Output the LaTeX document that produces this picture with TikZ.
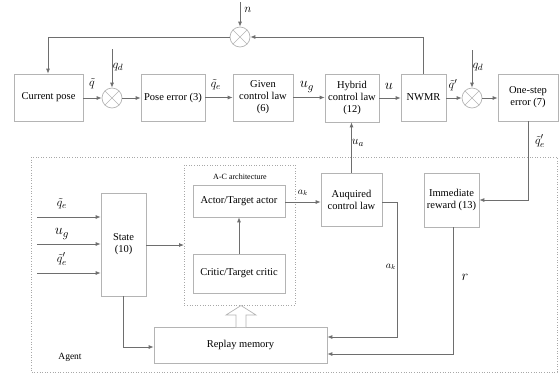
\documentclass[tikz,border=0pt]{standalone}
\usepackage{fontspec}
\setmainfont{Liberation Serif}
\usetikzlibrary{arrows.meta,calc}
\definecolor{boxc}{HTML}{B4B4B4}
\definecolor{linec}{HTML}{6E6E6E}
\definecolor{dotc}{HTML}{A8A8A8}
\tikzset{
  box/.style={draw=boxc, line width=0.7pt, align=center, inner sep=1pt, font=\fontsize{10.5}{12}\selectfont},
  sumnode/.style={draw=boxc, line width=0.7pt, circle, minimum size=20pt, inner sep=0pt,
    path picture={\draw[boxc,line width=0.6pt] (path picture bounding box.north west) -- (path picture bounding box.south east)
      (path picture bounding box.north east) -- (path picture bounding box.south west);}},
  arr/.style={draw=linec, line width=0.8pt, -{Latex[length=5pt,width=4pt]}},
  ln/.style={draw=linec, line width=0.8pt},
  lab/.style={inner sep=0pt, font=\fontsize{13}{15}\selectfont},
  blab/.style={inner sep=0pt, font=\fontsize{15}{17}\selectfont},
  slab/.style={inner sep=0pt, font=\fontsize{10}{12}\selectfont},
  dotbox/.style={draw=dotc, dotted, line width=0.6pt},
}
\begin{document}
\begin{tikzpicture}[x=1pt,y=-1pt]
\useasboundingbox (0,0) rectangle (559,376);
% top row
\node[box, minimum width=69pt, minimum height=47pt] (cur) at (48.5,97.5) {Current pose};
\node[sumnode] (c1) at (112,98) {};
\node[box, minimum width=64pt, minimum height=47pt] (perr) at (173,97.5) {Pose error (3)};
\node[box, minimum width=60pt, minimum height=47pt] (given) at (263,97.5) {Given\\control law\\(6)};
\node[box, minimum width=54pt, minimum height=48pt] (hyb) at (352,98) {Hybrid\\control law\\(12)};
\node[box, minimum width=45pt, minimum height=47pt] (nwmr) at (423.5,97.5) {NWMR};
\node[sumnode] (c2) at (472,98) {};
\node[box, minimum width=60pt, minimum height=47pt] (one) at (528,97.5) {One-step\\error (7)};
\node[sumnode] (c0) at (240,37) {};
\coordinate (nsrc) at (240,2);
\coordinate (qd1) at (112,49);
\coordinate (qd2) at (472,50);
\coordinate (fbl) at (48,37);
% agent
\draw[dotbox] (31,157) rectangle (557,372);
\draw[dotbox] (184,165) rectangle (295,305);
\node[slab, font=\fontsize{8}{10}\selectfont] (aclab) at (240,177) {A-C architecture};
\node[box, minimum width=92pt, minimum height=32pt] (actor) at (239,201) {Actor/Target actor};
\node[box, minimum width=92pt, minimum height=39pt] (critic) at (239,273.5) {Critic/Target critic};
\node[box, minimum width=45pt, minimum height=103pt] (state) at (123.5,244.5) {State\\(10)};
\node[box, minimum width=61pt, minimum height=53pt] (acq) at (351.5,199.5) {Auquired\\control law};
\node[box, minimum width=55pt, minimum height=54pt] (imm) at (451.5,200) {Immediate\\reward (13)};
\node[box, minimum width=173pt, minimum height=36pt] (replay) at (240.5,345) {Replay memory};
\node[slab, font=\fontsize{9.5}{11}\selectfont] (agent) at (70,357) {Agent};
\coordinate (acw) at (184,245);
\coordinate (in1) at (37,217);
\coordinate (in2) at (37,244);
\coordinate (in3) at (37,273);
\coordinate (ae) at (285,202);
\coordinate (qe) at (382,202);
\coordinate (bk1) at (397,337);
\coordinate (bk2) at (453,354);
\coordinate (bk3) at (123,347);
% top connectors
\draw[arr] (nsrc) -- (c0.north);
\draw[arr] (nwmr.north) |- (c0.east);
\draw[ln] (c0.west) -- (fbl);
\draw[arr] (fbl) -- (fbl |- cur.north);
\draw[arr] (cur.east |- c1) -- (c1.west);
\draw[arr] (qd1) -- (c1.north);
\draw[arr] (c1.east) -- (c1.east -| perr.west);
\draw[arr] (perr.east) -- (perr.east -| given.west);
\draw[arr] (given.east) -- (given.east -| hyb.west);
\draw[arr] (hyb.east) -- (hyb.east -| nwmr.west);
\draw[arr] (nwmr.east |- c2) -- (c2.west);
\draw[arr] (qd2) -- (c2.north);
\draw[arr] (c2.east) -- (c2.east -| one.west);
\draw[arr] (acq.north) -- (acq.north |- hyb.south);
\draw[arr] (one.south) |- (imm.east);
% agent connectors
\draw[arr] (in1) -- (in1 -| state.west);
\draw[arr] (in2) -- (in2 -| state.west);
\draw[arr] (in3) -- (in3 -| state.west);
\draw[arr] (state.east |- acw) -- (acw);
\draw[arr] (critic.north) -- (actor.south);
\draw[arr] (ae -| actor.east) -- (ae -| acq.west);
\draw[arr] (qe -| acq.east) -| (bk1) -- (bk1 -| replay.east);
\draw[arr] (imm.south -| bk2) -- (bk2) -- (bk2 -| replay.east);
\draw[arr] (state.south -| bk3) -- (bk3) -- (bk3 -| replay.west);
% hollow arrow
\draw[draw=boxc, line width=0.7pt, fill=white] (236,327) -- (236,315) -- (226,315) -- (241,305.5) -- (256,315) -- (246,315) -- (246,327);
% labels
\node[lab] at (248,10) {$n$};
\node[lab] at (92,84) {$\tilde{q}$};
\node[lab] at (118,67) {$q_d$};
\node[lab] at (216,85) {$\tilde{q}_e$};
\node[blab] at (307,87) {$u_g$};
\node[blab] at (389,86) {$u$};
\node[lab] at (453,85) {$\tilde{q}'$};
\node[lab] at (478,67) {$q_d$};
\node[lab] at (358,143) {$u_a$};
\node[lab] at (540,141) {$\tilde{q}'_e$};
\node[slab] at (303,193) {$a_k$};
\node[slab] at (391,267) {$a_k$};
\node[blab] at (465,277) {$r$};
\node[lab] at (62,204) {$\tilde{q}_e$};
\node[blab] at (62,234) {$u_g$};
\node[lab] at (62,259) {$\tilde{q}'_e$};
\end{tikzpicture}
\end{document}
